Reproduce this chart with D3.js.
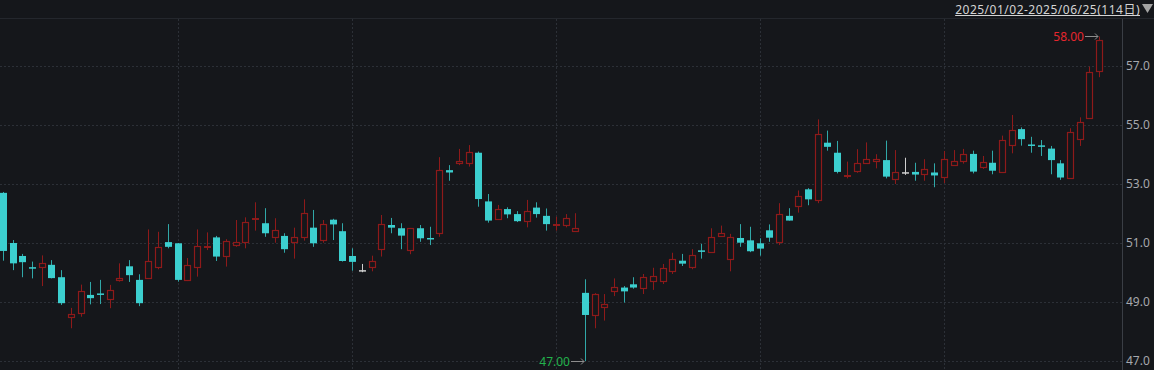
<!DOCTYPE html>
<html><head><meta charset="utf-8">
<script src="https://cdn.jsdelivr.net/npm/d3@7/dist/d3.min.js"></script>
<style>html,body{margin:0;padding:0;background:#15171b;overflow:hidden}svg{display:block}</style>
</head><body>
<svg id="chart" width="1154" height="370"></svg>
<script>
// ---- data ----
const dates = [
"2025/01/02","2025/01/03","2025/01/06","2025/01/07","2025/01/08","2025/01/09","2025/01/10","2025/01/13","2025/01/14","2025/01/15",
"2025/01/16","2025/01/17","2025/01/20","2025/01/21","2025/01/22","2025/01/23","2025/01/24","2025/01/27",
"2025/02/05","2025/02/06","2025/02/07","2025/02/10","2025/02/11","2025/02/12","2025/02/13","2025/02/14","2025/02/17","2025/02/18",
"2025/02/19","2025/02/20","2025/02/21","2025/02/24","2025/02/25","2025/02/26","2025/02/27","2025/02/28",
"2025/03/03","2025/03/04","2025/03/05","2025/03/06","2025/03/07","2025/03/10","2025/03/11","2025/03/12","2025/03/13","2025/03/14",
"2025/03/17","2025/03/18","2025/03/19","2025/03/20","2025/03/21","2025/03/24","2025/03/25","2025/03/26","2025/03/27","2025/03/28","2025/03/31",
"2025/04/01","2025/04/02","2025/04/03","2025/04/07","2025/04/08","2025/04/09","2025/04/10","2025/04/11","2025/04/14","2025/04/15",
"2025/04/16","2025/04/17","2025/04/18","2025/04/21","2025/04/22","2025/04/23","2025/04/24","2025/04/25","2025/04/28","2025/04/29","2025/04/30",
"2025/05/06","2025/05/07","2025/05/08","2025/05/09","2025/05/12","2025/05/13","2025/05/14","2025/05/15","2025/05/16","2025/05/19",
"2025/05/20","2025/05/21","2025/05/22","2025/05/23","2025/05/26","2025/05/27","2025/05/28","2025/05/29","2025/05/30",
"2025/06/03","2025/06/04","2025/06/05","2025/06/06","2025/06/09","2025/06/10","2025/06/11","2025/06/12","2025/06/13","2025/06/16",
"2025/06/17","2025/06/18","2025/06/19","2025/06/20","2025/06/23","2025/06/24","2025/06/25"
];
const openVals = [
52.70,51.00,50.56,50.18,50.20,50.26,49.84,48.48,48.62,49.24,
49.29,49.10,49.75,50.21,49.75,49.82,50.20,51.03,50.99,49.74,
50.20,50.86,51.19,50.55,50.92,51.02,51.83,51.67,51.21,51.24,
51.02,51.21,51.52,51.10,51.79,51.40,50.56,50.08,50.20,50.79,
51.61,51.50,50.76,51.50,51.17,51.35,53.47,53.72,53.70,54.06,
52.41,51.82,52.15,51.98,51.74,52.20,51.92,51.63,51.60,51.41,
49.31,48.57,48.82,49.38,49.49,49.60,49.49,49.72,49.70,50.06,
50.40,50.20,50.75,50.71,51.25,50.45,51.17,51.09,50.99,51.43,
51.02,51.92,52.24,52.82,52.46,54.40,54.06,53.29,53.45,53.72,
53.79,53.81,53.17,53.40,53.41,53.33,53.39,53.24,53.63,53.79,
54.02,53.57,53.72,53.41,54.32,54.86,54.34,54.31,54.20,53.70,
53.22,54.53,55.24,56.83
];
const highVals = [
52.73,51.10,50.63,50.37,50.58,50.42,50.08,48.80,49.59,49.68,
49.75,49.58,50.31,50.42,49.94,51.46,51.38,51.64,51.00,50.49,
51.46,51.36,51.24,51.13,51.78,51.87,52.38,52.18,51.84,51.33,
51.52,52.48,52.12,51.78,51.82,51.67,50.82,50.29,50.57,51.95,
51.85,51.67,51.51,51.61,51.55,53.91,53.64,54.19,54.32,54.10,
52.66,52.29,52.21,52.08,52.46,52.38,52.17,51.89,51.98,52.01,
49.77,49.30,49.27,49.80,49.54,49.84,49.95,50.16,50.29,50.67,
50.63,50.79,50.97,51.50,51.59,51.31,51.64,51.55,51.16,51.63,
52.35,52.18,52.78,52.86,55.19,54.81,54.46,53.76,54.18,54.41,
54.01,54.47,54.15,53.89,53.72,53.84,53.70,54.12,54.15,54.19,
54.13,53.95,54.13,54.64,55.34,54.92,54.60,54.49,54.29,53.81,
54.89,55.26,56.98,58.00
];
const lowVals = [
50.40,50.08,49.84,49.80,49.54,49.80,48.90,48.11,48.50,48.92,
48.93,48.79,49.69,49.68,48.86,49.78,50.11,50.82,49.69,49.71,
49.86,50.76,50.39,50.20,50.87,50.82,51.42,51.21,51.01,50.67,
50.47,51.08,50.87,51.01,51.10,50.37,50.06,50.01,50.04,50.54,
51.33,50.79,50.62,51.04,50.93,51.21,53.11,53.64,53.59,52.23,
51.69,51.82,51.84,51.71,51.53,51.86,51.42,51.42,51.53,51.41,
47.00,48.11,48.37,49.20,48.98,49.45,49.27,49.41,49.61,49.95,
50.22,50.11,50.47,50.71,51.21,50.04,50.87,50.69,50.57,51.04,
50.93,51.76,52.03,52.28,52.35,54.13,53.36,53.19,53.38,53.72,
53.53,53.19,53.00,53.31,53.11,53.11,52.89,53.03,53.63,53.69,
53.36,53.51,53.33,53.41,54.04,54.30,54.06,53.95,53.33,53.14,
53.22,54.29,55.24,56.62
];
const closeVals = [
50.73,50.31,50.35,50.17,50.31,49.81,48.96,48.58,49.36,49.13,
49.25,49.41,49.81,49.91,48.96,50.39,50.86,50.87,49.75,50.24,
50.89,50.89,50.54,51.07,51.02,51.70,51.84,51.33,51.45,50.79,
51.19,52.01,50.99,51.63,51.63,50.39,50.36,50.08,50.39,51.65,
51.52,51.25,51.50,51.16,51.15,53.46,53.39,53.78,54.07,52.49,
51.76,52.14,51.97,51.74,52.07,51.98,51.64,51.64,51.86,51.50,
48.56,49.27,48.92,49.50,49.36,49.49,49.84,49.88,50.16,50.45,
50.30,50.58,50.73,51.21,51.33,51.21,51.01,50.72,50.81,51.18,
51.98,51.76,52.61,52.48,54.69,54.26,53.41,53.30,53.70,53.86,
53.86,53.25,53.40,53.40,53.32,53.52,53.29,53.85,53.77,54.01,
53.42,53.74,53.45,54.48,54.83,54.52,54.32,54.26,53.81,53.22,
54.75,55.10,56.79,57.88
];
const yTicks = [47, 49, 51, 53, 55, 57];
const monthStarts = ["2025/02/05","2025/03/03","2025/04/01","2025/05/06","2025/06/03"];
const rangeLabel = "2025/01/02-2025/06/25(114日)";
const maxLabel = "58.00", minLabel = "47.00";

// ---- drawing ----
const C = {
  bg:"#15171b", grid:"#2c3037", axis:"#3a3e45", tick:"#a6a8ad",
  up:"#8e1a1a", down:"#3ccfcf", downWick:"#30a8a8", flat:"#cfcfcf",
  maxc:"#e5262e", minc:"#22b24c", arrow:"#8c8c8c", head:"#d4d4d4"
};
const svg = d3.select("#chart");
svg.append("rect").attr("width",1154).attr("height",370).attr("fill",C.bg);

const axisX = 1122;
const x = d3.scalePoint().domain(dates).range([3, 1099]);
const y = d3.scaleLinear().domain([47, 57]).range([361, 66]);
const px = v => Math.round(y(v));

// top separator
svg.append("line").attr("x1",0).attr("x2",1154).attr("y1",18.5).attr("y2",18.5)
  .attr("stroke","#24272d").attr("stroke-width",1);

// grid
const g = svg.append("g");
g.selectAll("line.h").data(yTicks).join("line").attr("class","h")
  .attr("x1",0).attr("x2",axisX).attr("y1",d=>px(d)+0.5).attr("y2",d=>px(d)+0.5)
  .attr("stroke",C.grid).attr("stroke-dasharray","2,2");
g.selectAll("line.v").data(monthStarts).join("line").attr("class","v")
  .attr("x1",d=>Math.round(x(d))+0.5).attr("x2",d=>Math.round(x(d))+0.5)
  .attr("y1",19).attr("y2",370)
  .attr("stroke",C.grid).attr("stroke-dasharray","2,2");

// right axis
svg.append("line").attr("x1",axisX+0.5).attr("x2",axisX+0.5).attr("y1",19).attr("y2",370)
  .attr("stroke",C.axis);
const ax = svg.append("g").attr("transform",`translate(${axisX},0)`)
  .call(d3.axisRight(y).tickValues(yTicks).tickFormat(d3.format(".1f")).tickSize(0).tickPadding(4));
ax.select(".domain").remove();
ax.selectAll("text").attr("fill",C.tick).style("font-family","'Noto Sans', sans-serif").style("font-size","12px");

// candles
const data = dates.map((d,i)=>({d, o:openVals[i], h:highVals[i], l:lowVals[i], c:closeVals[i]}));
const cg = svg.append("g");
data.forEach(k=>{
  const cx = Math.round(x(k.d));
  const yo = y(k.o), yc = y(k.c), yh = y(k.h), yl = y(k.l);
  const top = Math.min(yo,yc), bot = Math.max(yo,yc);
  if (k.c > k.o) {
    const t = Math.round(top)+0.5, b = Math.max(Math.round(bot)+0.5, t+1);
    cg.append("line").attr("x1",cx+0.5).attr("x2",cx+0.5).attr("y1",yh).attr("y2",t).attr("stroke",C.up);
    cg.append("line").attr("x1",cx+0.5).attr("x2",cx+0.5).attr("y1",b).attr("y2",yl).attr("stroke",C.up);
    if (b - t < 2) {
      cg.append("rect").attr("x",cx-3).attr("y",Math.round(top)).attr("width",7).attr("height",Math.max(1.5,b-t+1)).attr("fill",C.up);
    } else {
      cg.append("rect").attr("x",cx-2.5).attr("y",t).attr("width",6).attr("height",b-t)
        .attr("fill",C.bg).attr("stroke",C.up).attr("stroke-width",1.2);
    }
  } else {
    const col = k.c < k.o ? C.down : C.flat;
    const wcol = k.c < k.o ? C.downWick : C.flat;
    cg.append("line").attr("x1",cx+0.5).attr("x2",cx+0.5).attr("y1",yh).attr("y2",yl).attr("stroke",wcol);
    const h = Math.max(1.5, bot-top);
    cg.append("rect").attr("x",cx-3).attr("y",top).attr("width",7).attr("height",h).attr("fill",col);
  }
});

// max / min annotations
const maxIdx = d3.maxIndex(highVals), minIdx = d3.minIndex(lowVals);
function annot(idx, val, label, color){
  const cx = Math.round(x(dates[idx]));
  const yy = Math.round(y(val)) + 0.5;
  const tx = cx - 15;
  svg.append("text").attr("x",tx).attr("y",yy).attr("dy","0.35em").attr("text-anchor","end")
    .attr("fill",color).style("font-family","'Noto Sans', sans-serif").style("font-size","12px").text(label);
  svg.append("path").attr("d",`M${tx+1},${yy}H${cx-1}M${cx-4},${yy-3}L${cx-1},${yy}L${cx-4},${yy+3}`)
    .attr("fill","none").attr("stroke",C.arrow).attr("stroke-width",1);
}
annot(maxIdx, highVals[maxIdx], maxLabel, C.maxc);
annot(minIdx, lowVals[minIdx], minLabel, C.minc);

// header range text
const ht = svg.append("text").attr("x",1140).attr("y",13.5).attr("text-anchor","end")
  .attr("fill",C.head).style("font-family","'Noto Sans', 'Noto Sans CJK SC', sans-serif")
  .style("font-size","12px").style("letter-spacing","0.5px")
  .text(rangeLabel);
const bb = ht.node().getBBox();
svg.append("line").attr("x1",bb.x).attr("x2",1140).attr("y1",15.5).attr("y2",15.5).attr("stroke",C.head);
svg.append("path").attr("d","M1142,4H1153L1147.5,13Z").attr("fill","#a3a3a3");
</script>
</body></html>
